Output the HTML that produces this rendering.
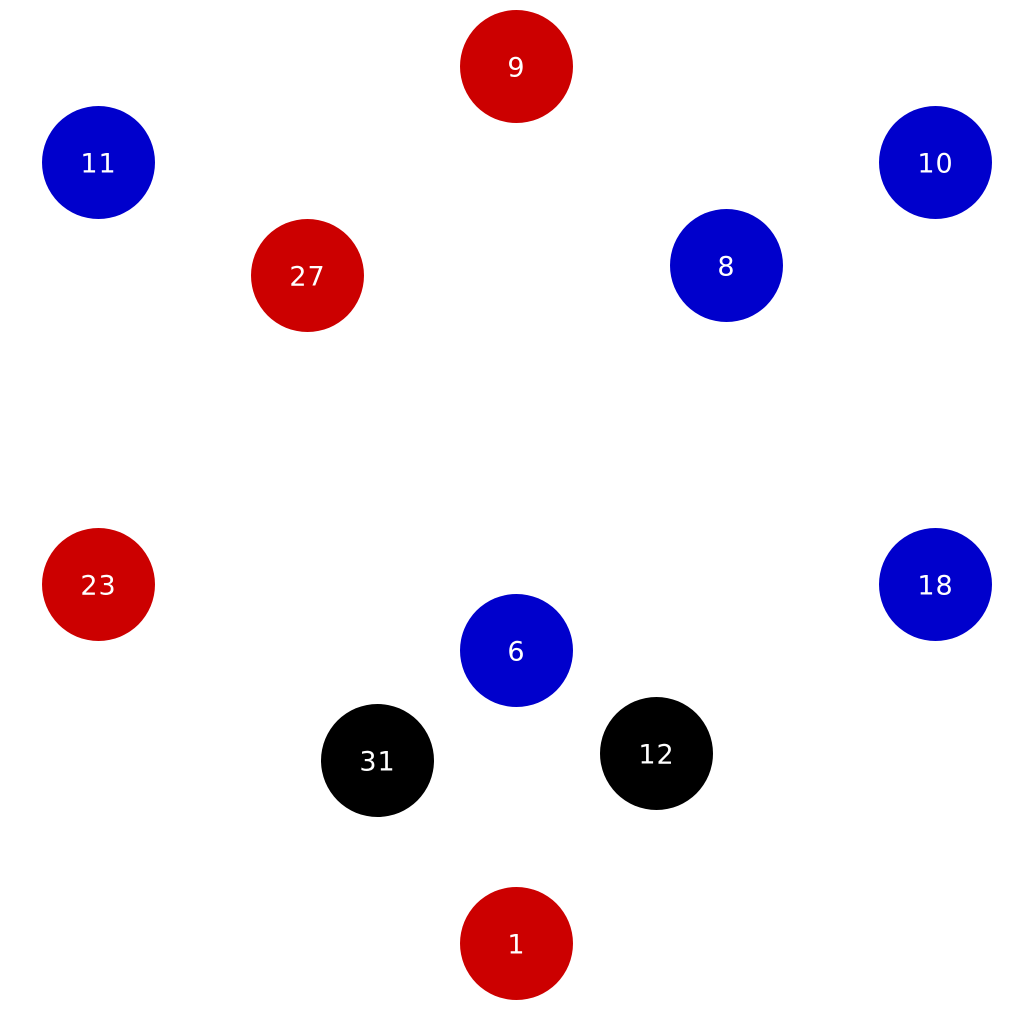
<!DOCTYPE html>
<html>
<head>
<meta charset="utf-8">
<style>
html,body{margin:0;padding:0;background:#fff;}
svg{display:block;}
</style>
</head>
<body>
<svg id="chart" width="1025" height="1010" viewBox="0 0 1025 1010" xmlns="http://www.w3.org/2000/svg">
<rect width="1025" height="1010" fill="#ffffff"/>
</svg>
<script>
const nodeLabels = ["9","11","10","27","8","23","18","6","31","12","1"];
const nodeX = [516.5,98.5,935.5,307.5,726.5,98.5,935.5,516.5,377.5,656.5,516.5];
const nodeY = [66.5,162.5,162.5,275.5,265.5,584.5,584.5,650.5,760.5,753.5,943.5];
const nodeGroup = ["red","blue","blue","red","blue","red","blue","blue","black","black","red"];
const groupColors = {red:"#cc0000", blue:"#0000cc", black:"#000000"};
const NS = "http://www.w3.org/2000/svg";
const svg = document.getElementById("chart");
const R = 56.5;
for (let i = 0; i < nodeLabels.length; i++) {
  const g = document.createElementNS(NS, "g");
  
  
  const c = document.createElementNS(NS, "circle");
  
  
  c.setAttribute("cx", nodeX[i]);
  c.setAttribute("cy", nodeY[i]);
  c.setAttribute("r", R);
  c.setAttribute("fill", groupColors[nodeGroup[i]]);
  g.appendChild(c);
  const t = document.createElementNS(NS, "text");
  
  
  t.setAttribute("x", nodeX[i]);
  t.setAttribute("y", nodeY[i] + 10);
  t.setAttribute("text-anchor", "middle");
  t.setAttribute("fill", "#ffffff");
  t.setAttribute("font-family", "DejaVu Sans, Liberation Sans, sans-serif");
  t.setAttribute("font-size", "27");
  t.setAttribute("letter-spacing", "1");
  t.textContent = nodeLabels[i];
  g.appendChild(t);
  svg.appendChild(g);
}
</script>
</body>
</html>
